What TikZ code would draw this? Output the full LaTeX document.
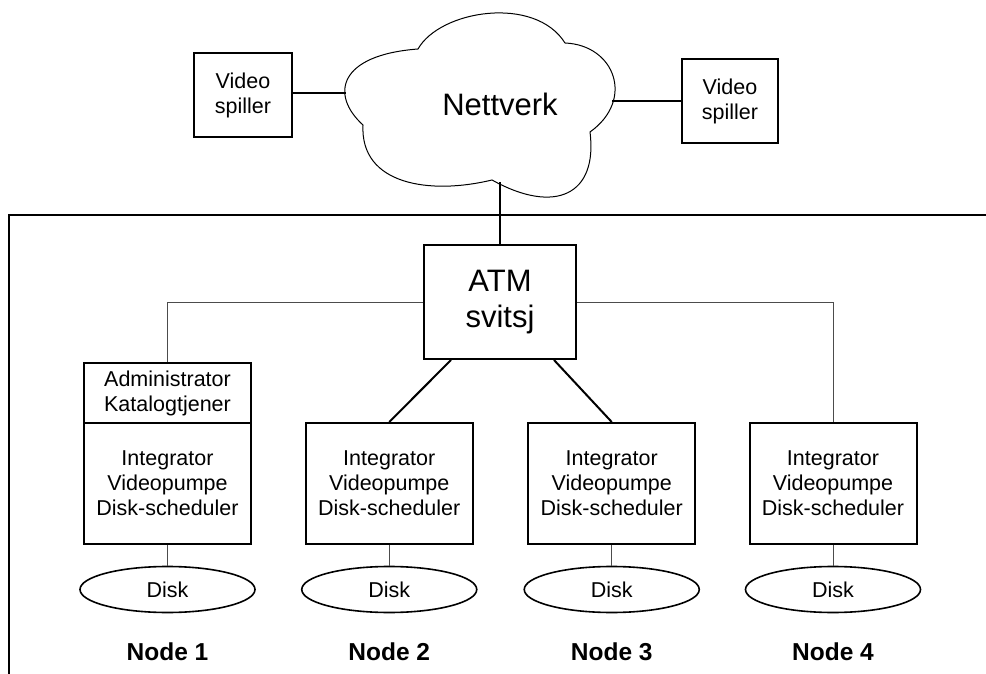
\documentclass[tikz,border=0pt]{standalone}
\usepackage{fontspec}
\setmainfont{Liberation Sans}
\usetikzlibrary{shapes.geometric}
\newcommand{\smallfnt}{\fontsize{21.5}{25}\selectfont}
\newcommand{\bigfnt}{\fontsize{31}{36.5}\selectfont}
\newcommand{\labfnt}{\fontsize{24.5}{28}\selectfont\bfseries}
\begin{document}
\begin{tikzpicture}[x=1pt,y=-1pt,
  boxed/.style={draw, line width=2pt, inner sep=0pt, align=center, font=\smallfnt},
  unitbox/.style={boxed, minimum width=167pt, minimum height=121pt},
  diskshape/.style={draw, ellipse, line width=1.6pt, inner sep=0pt,
                    minimum width=175pt, minimum height=46pt, font=\smallfnt},
  thick line/.style={line width=2pt},
  thin line/.style={line width=1pt, black!70},
  nodelabel/.style={anchor=base, font=\labfnt}]
\useasboundingbox (0,0) rectangle (986,674);

% enclosing server frame
\coordinate (frTR) at (986,215);
\coordinate (frTL) at (9,215);
\coordinate (frBL) at (9,674);
\draw[thick line] (frTR) -- (frTL) -- (frBL);

% network cloud
\draw[line width=1pt, fill=white]
  (363,125) .. controls (330,95) and (338,55) .. (418,49)
            .. controls (440,10) and (535,-5) .. (565,43)
            .. controls (615,45) and (635,100) .. (590,132)
            .. controls (598,195) and (555,215) .. (492,180)
            .. controls (430,195) and (360,185) .. (363,125) -- cycle;
\node[font=\bigfnt] (net) at (500,104) {Nettverk};
\coordinate (cL) at (346,93.5);
\coordinate (cR) at (612,101.5);
\coordinate (cB) at (500,182);

% video players
\node[boxed, minimum width=98pt, minimum height=84.5pt] (vpL) at (243,95) {Video\\spiller};
\node[boxed, minimum width=96pt, minimum height=84pt] (vpR) at (730,101) {Video\\spiller};
\draw[thick line] (vpL.east |- cL) -- (cL);
\draw[thick line] (cR) -- (cR -| vpR.west);

% ATM switch
\node[boxed, font=\bigfnt, minimum width=152pt, minimum height=114pt] (atm) at (500,302) {ATM\\svitsj};
\draw[thick line] (cB) -- (atm.north);

% server nodes
\node[boxed, minimum width=167pt, minimum height=60pt] (adm) at (167.5,393) {Administrator\\Katalogtjener};
\node[unitbox] (n1) at (167.5,483.5) {Integrator\\Videopumpe\\Disk-scheduler};
\node[unitbox] (n2) at (389.25,483.5) {Integrator\\Videopumpe\\Disk-scheduler};
\node[unitbox] (n3) at (611.75,483.5) {Integrator\\Videopumpe\\Disk-scheduler};
\node[unitbox] (n4) at (833,483.5) {Integrator\\Videopumpe\\Disk-scheduler};

% switch links
\draw[thin line] (atm.west) -| (adm.north);
\draw[thin line] (atm.east) -| (n4.north);
\draw[thick line] ([xshift=-49pt]atm.south) -- (n2.north);
\draw[thick line] ([xshift=54pt]atm.south) -- (n3.north);

% disks
\node[diskshape] (d1) at (167.5,589.5) {Disk};
\node[diskshape] (d2) at (389.25,589.5) {Disk};
\node[diskshape] (d3) at (611.75,589.5) {Disk};
\node[diskshape] (d4) at (833,589.5) {Disk};
\foreach \i in {1,...,4} {\draw[thin line] (n\i.south) -- (d\i.north);}

% node captions
\node[nodelabel] (l1) at (167.5,660.5) {Node 1};
\node[nodelabel] (l2) at (389.25,660.5) {Node 2};
\node[nodelabel] (l3) at (611.75,660.5) {Node 3};
\node[nodelabel] (l4) at (833,660.5) {Node 4};
\end{tikzpicture}
\end{document}
